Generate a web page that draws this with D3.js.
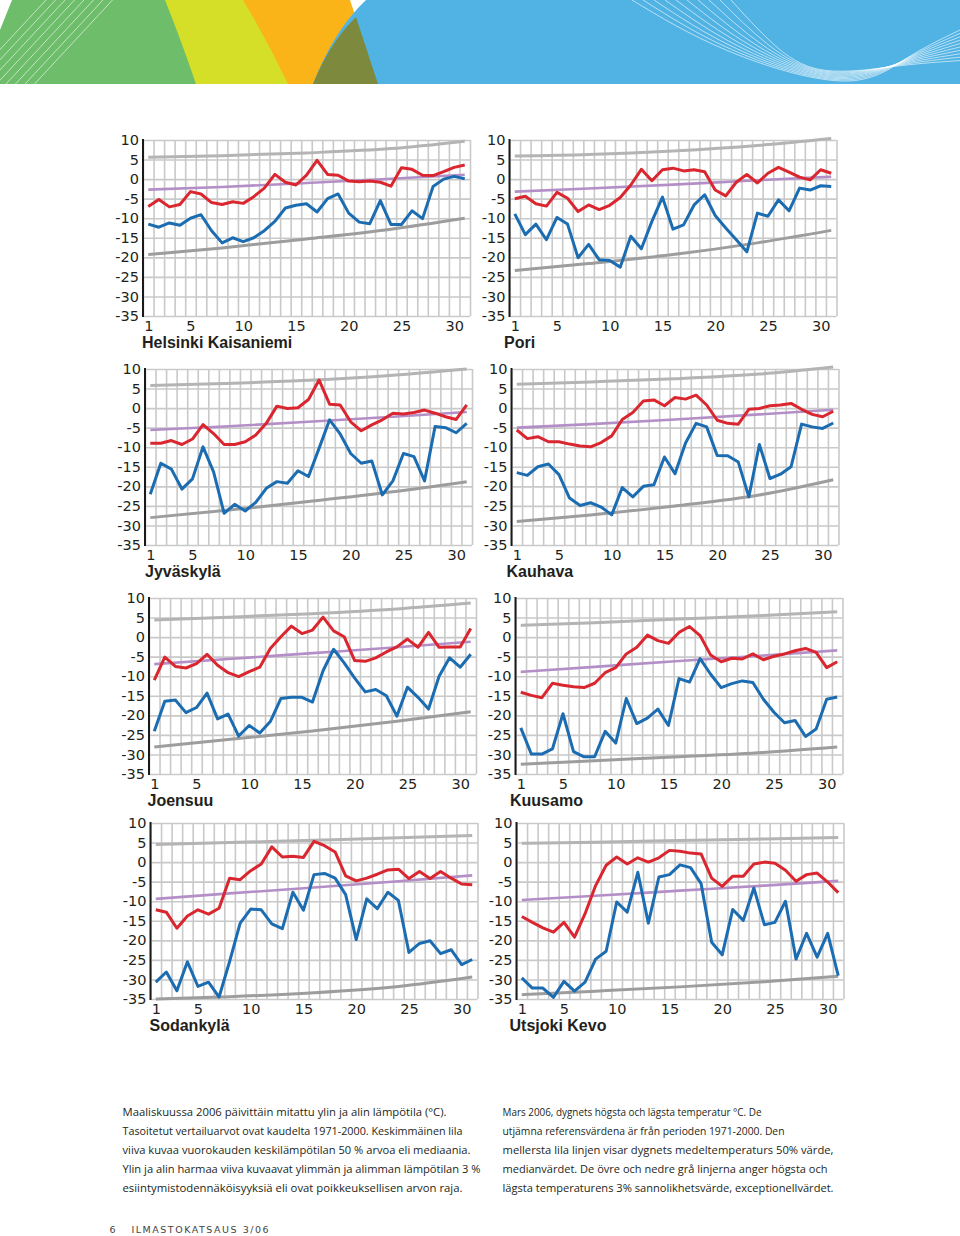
<!DOCTYPE html>
<html>
<head>
<meta charset="utf-8">
<script src="https://cdn.jsdelivr.net/npm/d3@7"></script>
<style>
	body { margin: 0; background: #fff; }
	svg { display: block; }
</style>
</head>
<body>
<svg id="chart" width="960" height="1236"></svg>
<script>
// days of march 2006 and axis ticks
var days = d3.range(1, 32);
var yTicks = [10, 5, 0, -5, -10, -15, -20, -25, -30, -35];
var xTicks = [1, 5, 10, 15, 20, 25, 30];
var gridDays = d3.range(0.5, 32, 1);
var refDays = [1, 8, 16, 24, 31];

var stations = ["Helsinki Kaisaniemi", "Pori", "Jyväskylä", "Kauhava", "Joensuu", "Kuusamo", "Sodankylä", "Utsjoki Kevo"];

// daily max / min (°C)
var helsinkiMax = [-7.0, -5.2, -7.1, -6.5, -3.2, -3.8, -6.0, -6.5, -5.8, -6.2, -4.5, -2.3, 1.2, -0.8, -1.5, 1.0, 4.8, 1.2, 1.0, -0.5, -0.7, -0.5, -0.8, -1.8, 2.9, 2.5, 1.0, 0.9, 1.9, 3.0, 3.6];
var helsinkiMin = [-11.5, -12.3, -11.2, -11.8, -10.0, -9.1, -13.2, -16.3, -15.0, -16.0, -15.0, -13.2, -10.8, -7.4, -6.7, -6.3, -8.4, -5.0, -3.8, -8.7, -11.0, -11.4, -5.5, -11.6, -11.6, -8.1, -10.1, -1.9, 0.0, 0.7, 0.1];
var poriMax = [-5.0, -4.4, -6.3, -6.9, -3.4, -4.9, -8.3, -6.6, -7.8, -6.7, -4.7, -1.5, 2.5, -0.4, 2.4, 2.8, 2.1, 2.4, 1.9, -2.8, -4.3, -0.8, 1.2, -1.0, 1.5, 3.0, 1.8, 0.5, -0.2, 2.4, 1.5];
var poriMin = [-8.9, -14.2, -11.5, -15.5, -9.8, -11.5, -20.1, -16.7, -20.6, -20.8, -22.5, -14.6, -17.8, -10.8, -4.6, -12.8, -11.7, -6.6, -4.0, -9.3, -12.5, -15.5, -18.6, -8.7, -9.5, -5.3, -8.1, -2.3, -2.8, -1.7, -1.9];
var jyvaskylaMax = [-9.0, -9.0, -8.3, -9.3, -7.9, -4.2, -6.5, -9.3, -9.3, -8.6, -6.9, -3.9, 0.5, -0.1, 0.1, 2.2, 7.2, 1.0, 0.8, -3.5, -5.8, -4.3, -3.0, -1.3, -1.5, -1.1, -0.5, -1.3, -2.2, -2.9, 0.8];
var jyvaskylaMin = [-22.0, -14.1, -15.6, -20.7, -18.1, -9.9, -16.3, -26.9, -24.6, -26.3, -24.1, -20.5, -18.8, -19.2, -16.0, -17.5, -10.3, -3.0, -6.6, -11.6, -14.1, -13.5, -22.2, -18.6, -11.6, -12.4, -18.6, -4.7, -5.0, -6.3, -3.9];
var kauhavaMax = [-5.6, -7.8, -7.3, -8.6, -8.6, -9.2, -9.7, -9.9, -8.8, -7.1, -2.9, -1.1, 1.8, 2.1, 0.6, 2.7, 2.3, 3.3, 0.8, -3.1, -3.9, -4.1, -0.3, -0.1, 0.6, 0.8, 1.2, -0.3, -1.6, -2.2, -0.8];
var kauhavaMin = [-16.5, -17.2, -15.0, -14.3, -17.0, -23.0, -24.9, -24.2, -25.3, -27.3, -20.3, -22.7, -20.0, -19.6, -12.5, -16.8, -8.9, -3.9, -4.8, -12.1, -12.2, -13.8, -22.7, -9.3, -18.0, -16.9, -15.0, -4.1, -4.8, -5.2, -3.8];
var joensuuMax = [-11.0, -5.1, -7.5, -7.9, -6.8, -4.4, -7.2, -9.1, -10.1, -8.8, -7.7, -2.9, 0.1, 2.8, 0.9, 1.8, 5.1, 1.6, 0.1, -6.0, -6.2, -5.3, -3.8, -2.5, -0.5, -2.6, 1.2, -2.6, -2.5, -2.5, 2.2];
var joensuuMin = [-24.1, -16.4, -16.1, -19.3, -18.0, -14.3, -20.9, -19.7, -25.3, -22.6, -24.5, -21.6, -15.7, -15.4, -15.4, -16.6, -8.6, -3.1, -6.6, -10.5, -14.0, -13.4, -15.0, -20.2, -12.8, -15.4, -18.4, -10.0, -5.3, -7.7, -4.4];
var kuusamoMax = [-14.1, -14.9, -15.5, -11.8, -12.3, -12.7, -12.9, -11.8, -9.1, -7.8, -4.3, -2.6, 0.5, -0.9, -1.6, 1.2, 2.7, 0.4, -4.6, -6.3, -5.4, -5.6, -4.3, -5.8, -4.9, -4.3, -3.5, -2.9, -3.9, -7.8, -6.3];
var kuusamoMin = [-23.2, -29.9, -29.9, -28.6, -19.6, -29.3, -30.6, -30.6, -24.1, -27.1, -15.7, -22.1, -20.7, -18.4, -22.6, -10.6, -11.5, -5.5, -9.5, -12.9, -11.9, -11.2, -11.6, -15.9, -19.2, -21.9, -21.3, -25.4, -23.5, -15.9, -15.3];
var sodankylaMax = [-12.2, -12.8, -16.9, -13.8, -12.2, -13.3, -11.8, -4.1, -4.5, -2.2, -0.5, 3.9, 1.3, 1.5, 1.2, 5.3, 4.2, 2.6, -3.5, -4.8, -4.1, -3.1, -2.0, -1.8, -4.2, -2.4, -4.2, -2.4, -4.1, -5.6, -5.8];
var sodankylaMin = [-30.7, -28.1, -32.9, -25.5, -31.8, -30.7, -34.5, -25.4, -15.6, -12.0, -12.2, -15.8, -17.0, -7.7, -12.3, -3.2, -2.9, -4.1, -8.3, -19.8, -9.4, -11.9, -7.7, -9.8, -23.1, -20.8, -20.1, -23.4, -22.4, -26.2, -24.9];
var utsjokiMax = [-13.9, -15.4, -16.8, -17.9, -15.4, -19.2, -13.2, -6.0, -0.8, 1.3, -0.5, 1.1, 0.0, 1.1, 3.0, 2.8, 2.3, 2.1, -4.1, -6.2, -3.6, -3.6, -0.5, 0.0, -0.3, -2.1, -4.9, -3.2, -2.8, -5.1, -7.8];
var utsjokiMin = [-29.6, -32.2, -32.2, -34.6, -30.5, -33.0, -30.7, -24.8, -22.8, -10.2, -12.8, -2.6, -15.6, -3.8, -3.2, -0.7, -1.4, -5.5, -20.5, -23.7, -12.1, -14.9, -6.6, -16.0, -15.4, -10.0, -24.8, -18.2, -24.3, -18.2, -29.0];

// reference curves 1971-2000 at refDays: upper 3%, median, lower 3%
var helsinkiUpper = [5.6, 6.0, 6.7, 7.8, 9.7];
var helsinkiMedian = [-2.7, -2.0, -1.0, 0.1, 1.1];
var helsinkiLower = [-19.3, -17.6, -15.3, -12.8, -10.0];
var poriUpper = [5.9, 6.3, 7.2, 8.6, 10.4];
var poriMedian = [-3.2, -2.4, -1.4, -0.3, 0.6];
var poriLower = [-23.4, -21.6, -19.3, -16.3, -13.1];
var jyvaskylaUpper = [5.8, 6.3, 7.1, 8.4, 10.0];
var jyvaskylaMedian = [-5.6, -4.7, -3.5, -2.2, -1.0];
var jyvaskylaLower = [-28.0, -26.2, -23.9, -21.4, -18.8];
var kauhavaUpper = [6.1, 6.7, 7.5, 8.7, 10.5];
var kauhavaMedian = [-5.0, -4.1, -2.9, -1.6, -0.4];
var kauhavaLower = [-29.0, -27.3, -25.0, -22.2, -18.3];
var joensuuUpper = [4.4, 5.1, 6.0, 7.2, 8.7];
var joensuuMedian = [-6.9, -5.6, -4.1, -2.6, -1.2];
var joensuuLower = [-28.1, -26.2, -24.0, -21.5, -19.1];
var kuusamoUpper = [3.0, 3.7, 4.6, 5.5, 6.5];
var kuusamoMedian = [-8.9, -7.6, -6.1, -4.7, -3.4];
var kuusamoLower = [-32.5, -31.6, -30.6, -29.5, -28.1];
var sodankylaUpper = [4.5, 5.0, 5.6, 6.2, 6.8];
var sodankylaMedian = [-9.4, -8.0, -6.5, -4.9, -3.4];
var sodankylaLower = [-35.0, -34.4, -33.4, -31.8, -29.4];
var utsjokiUpper = [4.8, 5.1, 5.5, 5.9, 6.3];
var utsjokiMedian = [-9.7, -8.6, -7.3, -6.0, -4.8];
var utsjokiLower = [-33.9, -33.0, -31.9, -30.6, -29.2];

var maxSeries = [helsinkiMax, poriMax, jyvaskylaMax, kauhavaMax, joensuuMax, kuusamoMax, sodankylaMax, utsjokiMax];
var minSeries = [helsinkiMin, poriMin, jyvaskylaMin, kauhavaMin, joensuuMin, kuusamoMin, sodankylaMin, utsjokiMin];
var upperSeries = [helsinkiUpper, poriUpper, jyvaskylaUpper, kauhavaUpper, joensuuUpper, kuusamoUpper, sodankylaUpper, utsjokiUpper];
var medianSeries = [helsinkiMedian, poriMedian, jyvaskylaMedian, kauhavaMedian, joensuuMedian, kuusamoMedian, sodankylaMedian, utsjokiMedian];
var lowerSeries = [helsinkiLower, poriLower, jyvaskylaLower, kauhavaLower, joensuuLower, kuusamoLower, sodankylaLower, utsjokiLower];

var captionFi = [
	"Maaliskuussa 2006 päivittäin mitattu ylin ja alin lämpötila (°C).",
	"Tasoitetut vertailuarvot ovat kaudelta 1971-2000. Keskimmäinen lila",
	"viiva kuvaa vuorokauden keskilämpötilan 50 % arvoa eli mediaania.",
	"Ylin ja alin harmaa viiva kuvaavat ylimmän ja alimman lämpötilan 3 %",
	"esiintymistodennäköisyyksiä eli ovat poikkeuksellisen arvon raja."
];
var captionSv = [
	"Mars 2006, dygnets högsta och lägsta temperatur °C. De",
	"utjämna referensvärdena är från perioden 1971-2000. Den",
	"mellersta lila linjen visar dygnets medeltemperaturs 50% värde,",
	"medianvärdet. De övre och nedre grå linjerna anger högsta och",
	"lägsta temperaturens 3% sannolikhetsvärde, exceptionellvärdet."
];

// layout
var panelW = 327, panelH = 176;
var layout = [
	{x: 143, y: 140, nameDx: -1},
	{x: 509.5, y: 140, nameDx: -5.5},
	{x: 145, y: 369, nameDx: 0},
	{x: 511.5, y: 369, nameDx: -5},
	{x: 149, y: 598, nameDx: -1.5},
	{x: 515.5, y: 598, nameDx: -5.5},
	{x: 150.5, y: 823, nameDx: -1},
	{x: 516.5, y: 823, nameDx: -7}
];
var fiWidths = [324, 340, 348, 358, 340];
var svWidths = [259, 282, 331, 325, 331];

var app = {
	svg: null,
	drawBanner: function(){
		var b = this.svg.append("g").attr("class", "banner");
		b.append("path").attr("fill", "#6dbd6b")
			.attr("d", "M12,0 L166,0 Q182,40 197,84 L0,84 L0,30 Z");
		b.append("path").attr("fill", "#d5df27")
			.attr("d", "M165,0 L244,0 Q268,40 289,84 L196,84 Q181,40 165,0 Z");
		b.append("path").attr("fill", "#fbb417")
			.attr("d", "M243,0 L350,0 L378,84 L288,84 Q267,40 243,0 Z");
		b.append("path").attr("fill", "#51b3e4")
			.attr("d", "M366,0 L960,0 L960,84 L313,84 Q334,30 366,0 Z");
		// overlap of orange and blue
		b.append("path").attr("fill", "#7d8a3e")
			.attr("d", "M356,17 L378,84 L313,84 Q330,42 356,17 Z");

		//white stripes on the green
		var stripes = b.append("g").attr("stroke", "#fff").attr("stroke-opacity", 0.75).attr("stroke-width", 0.8).attr("fill", "none");
		d3.range(8).forEach(function(k){
			var x0 = 46 + k * 9.5;
			stripes.append("line").attr("x1", x0).attr("y1", 0).attr("x2", x0 - 78).attr("y2", 84);
		});

		//white u-shaped curves on the blue
		var curves = b.append("g").attr("stroke", "#fff").attr("stroke-opacity", 0.75).attr("stroke-width", 0.8).attr("fill", "none");
		var swoop = d3.line().curve(d3.curveNatural);
		d3.range(10).forEach(function(k){
			var x0 = 632 + k * 11;
			var vx = 842 - k * 2, vy = 81 - k * 1.2;
			var y2 = 30 + k * 3.4;
			curves.append("path").attr("d", swoop([
				[x0, 0],
				[x0 + (vx - x0) * 0.45, vy * 0.62],
				[vx, vy],
				[vx + (960 - vx) * 0.55, vy - (vy - y2) * 0.45],
				[960, y2]
			]));
		});
	},
	drawPanel: function(i){
		var pos = layout[i];
		var g = this.svg.append("g").attr("class", "panel");
		var x = d3.scaleLinear().domain([0.5, 31.5]).range([pos.x, pos.x + panelW]);
		var y = d3.scaleLinear().domain([-35, 10]).range([pos.y + panelH, pos.y]);
		var gridColor = "#c9c9c9";

		//horizontal grid
		g.append("g")
			.attr("transform", "translate(" + pos.x + ",0)")
			.call(d3.axisLeft(y).tickValues(yTicks).tickSize(-panelW).tickFormat(""))
			.call(function(a){
				a.select(".domain").remove();
				a.selectAll("line").attr("stroke", gridColor).attr("stroke-width", 1.6);
			});

		//vertical grid
		g.append("g")
			.attr("transform", "translate(0," + (pos.y + panelH) + ")")
			.call(d3.axisBottom(x).tickValues(gridDays).tickSize(-panelH).tickFormat(""))
			.call(function(a){
				a.select(".domain").remove();
				a.selectAll("line").attr("stroke", gridColor).attr("stroke-width", 1.6);
			});

		//y labels
		g.append("g")
			.attr("transform", "translate(" + pos.x + ",0)")
			.call(d3.axisLeft(y).tickValues(yTicks).tickSize(0).tickPadding(4).tickFormat(function(d){ return String(d); }))
			.call(function(a){
				a.select(".domain").remove();
				a.attr("font-family", "DejaVu Sans").attr("font-size", 14.5);
				a.selectAll("text").attr("fill", "#231f20");
			});

		//x labels
		g.append("g")
			.attr("transform", "translate(0," + (pos.y + panelH) + ")")
			.call(d3.axisBottom(x).tickValues(xTicks).tickSize(0).tickPadding(4.5))
			.call(function(a){
				a.select(".domain").remove();
				a.attr("font-family", "DejaVu Sans").attr("font-size", 14.5);
				a.selectAll("text").attr("fill", "#231f20");
			});

		//black left axis
		g.append("line")
			.attr("x1", pos.x).attr("x2", pos.x)
			.attr("y1", y(10) - 1).attr("y2", y(-35) + 1)
			.attr("stroke", "#1a1a1a").attr("stroke-width", 2);

		var refLine = d3.line()
			.x(function(d, j){ return x(refDays[j]); })
			.y(function(d){ return y(d); })
			.curve(d3.curveMonotoneX);

		var dayLine = d3.line()
			.x(function(d, j){ return x(days[j]); })
			.y(function(d){ return y(d); });

		g.append("path").attr("d", refLine(upperSeries[i]))
			.attr("fill", "none").attr("stroke", "#b4b4b4").attr("stroke-width", 3);
		g.append("path").attr("d", refLine(lowerSeries[i]))
			.attr("fill", "none").attr("stroke", "#9d9d9d").attr("stroke-width", 3);
		g.append("path").attr("d", refLine(medianSeries[i]))
			.attr("fill", "none").attr("stroke", "#b48fc7").attr("stroke-width", 2.6);

		g.append("path").attr("d", dayLine(maxSeries[i]))
			.attr("fill", "none").attr("stroke", "#d9262f").attr("stroke-width", 3)
			.attr("stroke-linejoin", "round");
		g.append("path").attr("d", dayLine(minSeries[i]))
			.attr("fill", "none").attr("stroke", "#1b6cb1").attr("stroke-width", 3)
			.attr("stroke-linejoin", "round");

		//station name
		g.append("text")
			.attr("x", pos.x + pos.nameDx)
			.attr("y", pos.y + panelH + 32)
			.attr("font-family", "Liberation Sans").attr("font-weight", "bold").attr("font-size", 16)
			.attr("fill", "#231f20")
			.text(stations[i]);
	},
	drawCaptions: function(){
		var c = this.svg.append("g").attr("font-family", "Open Sans").attr("font-size", 11.3).attr("fill", "#231f20");
		captionFi.forEach(function(t, k){
			c.append("text").attr("x", 122.5).attr("y", 1116 + k * 19)
				.attr("textLength", fiWidths[k]).attr("lengthAdjust", "spacingAndGlyphs").text(t);
		});
		captionSv.forEach(function(t, k){
			c.append("text").attr("x", 502.5).attr("y", 1116 + k * 19)
				.attr("textLength", svWidths[k]).attr("lengthAdjust", "spacingAndGlyphs").text(t);
		});

		//page footer
		var f = this.svg.append("g").attr("font-family", "DejaVu Sans").attr("font-size", 9.5).attr("fill", "#444");
		f.append("text").attr("x", 109.5).attr("y", 1233).text("6");
		f.append("text").attr("x", 131.5).attr("y", 1233)
			.attr("textLength", 137).attr("lengthAdjust", "spacing").text("ILMASTOKATSAUS 3/06");
	},
	init: function(){
		this.svg = d3.select("#chart");
		this.drawBanner();
		for (var i = 0; i < stations.length; i++) {
			this.drawPanel(i);
		}
		this.drawCaptions();
	}
};

app.init();
</script>
</body>
</html>
